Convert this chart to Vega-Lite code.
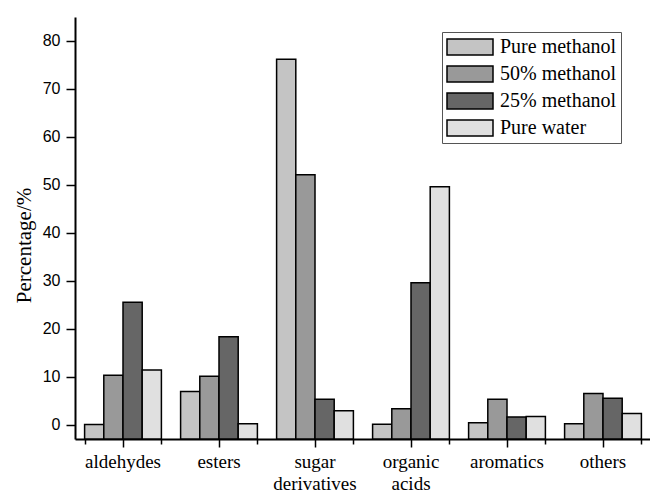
{
  "$schema": "https://vega.github.io/schema/vega-lite/v6.json",
  "width": 576,
  "height": 422,
  "autosize": {"type": "none"},
  "padding": {"left": 75, "top": 17, "right": 0, "bottom": 53},
  "background": "white",
  "config": {
    "view": {"stroke": null},
    "axis": {"domainColor": "black", "tickColor": "black", "labelColor": "black", "titleColor": "black", "grid": false}
  },
  "data": {
    "values": [
      {"category": "aldehydes", "solvent": "Pure methanol", "percentage": 0.0},
      {"category": "aldehydes", "solvent": "50% methanol", "percentage": 10.3},
      {"category": "aldehydes", "solvent": "25% methanol", "percentage": 25.5},
      {"category": "aldehydes", "solvent": "Pure water", "percentage": 11.4},
      {"category": "esters", "solvent": "Pure methanol", "percentage": 6.9},
      {"category": "esters", "solvent": "50% methanol", "percentage": 10.1},
      {"category": "esters", "solvent": "25% methanol", "percentage": 18.3},
      {"category": "esters", "solvent": "Pure water", "percentage": 0.2},
      {"category": "sugar derivatives", "solvent": "Pure methanol", "percentage": 76.2},
      {"category": "sugar derivatives", "solvent": "50% methanol", "percentage": 52.1},
      {"category": "sugar derivatives", "solvent": "25% methanol", "percentage": 5.3},
      {"category": "sugar derivatives", "solvent": "Pure water", "percentage": 2.9},
      {"category": "organic acids", "solvent": "Pure methanol", "percentage": 0.1},
      {"category": "organic acids", "solvent": "50% methanol", "percentage": 3.3},
      {"category": "organic acids", "solvent": "25% methanol", "percentage": 29.6},
      {"category": "organic acids", "solvent": "Pure water", "percentage": 49.6},
      {"category": "aromatics", "solvent": "Pure methanol", "percentage": 0.4},
      {"category": "aromatics", "solvent": "50% methanol", "percentage": 5.3},
      {"category": "aromatics", "solvent": "25% methanol", "percentage": 1.6},
      {"category": "aromatics", "solvent": "Pure water", "percentage": 1.7},
      {"category": "others", "solvent": "Pure methanol", "percentage": 0.2},
      {"category": "others", "solvent": "50% methanol", "percentage": 6.5},
      {"category": "others", "solvent": "25% methanol", "percentage": 5.5},
      {"category": "others", "solvent": "Pure water", "percentage": 2.3}
    ]
  },
  "layer": [
    {
      "mark": {"type": "bar", "stroke": "black", "strokeWidth": 1.5},
      "encoding": {
        "x": {
          "field": "category",
          "type": "nominal",
          "sort": ["aldehydes", "esters", "sugar derivatives", "organic acids", "aromatics", "others"],
          "scale": {"paddingInner": 0.2, "paddingOuter": 0.1},
          "axis": {
            "title": null,
            "labelAngle": 0,
            "labelFont": "Liberation Serif",
            "labelFontSize": 19,
            "labelLineHeight": 22,
            "labelExpr": "split(datum.label, ' ')",
            "labelPadding": 5,
            "tickSize": 8,
            "tickWidth": 1.5,
            "domainWidth": 2
          }
        },
        "xOffset": {
          "field": "solvent",
          "type": "nominal",
          "scale": {"domain": ["Pure methanol", "50% methanol", "25% methanol", "Pure water"], "paddingInner": 0, "paddingOuter": 0}
        },
        "y": {
          "field": "percentage",
          "type": "quantitative",
          "scale": {"domain": [-3, 85], "nice": false, "zero": false},
          "axis": {
            "title": "Percentage/%",
            "titleFont": "Liberation Serif",
            "titleFontSize": 21,
            "titleFontWeight": "normal",
            "titlePadding": 8,
            "titleY": 228,
            "values": [0, 5, 10, 15, 20, 25, 30, 35, 40, 45, 50, 55, 60, 65, 70, 75, 80, 85],
            "labelExpr": "datum.value % 10 === 0 ? datum.label : ''",
            "labelFont": "Liberation Sans",
            "labelFontSize": 16,
            "labelPadding": 6,
            "tickSize": {"condition": {"test": "datum.value % 10 === 0", "value": 9}, "value": 5},
            "tickWidth": 1.5,
            "domainWidth": 2
          }
        },
        "y2": {"datum": -3},
        "fill": {
          "field": "solvent",
          "type": "nominal",
          "scale": {
            "domain": ["Pure methanol", "50% methanol", "25% methanol", "Pure water"],
            "range": ["#c4c4c4", "#999999", "#666666", "#e0e0e0"]
          },
          "legend": {
            "title": null,
            "orient": "none",
            "legendX": 367,
            "legendY": 15,
            "symbolType": "M-1,-0.348H1V0.348H-1Z",
            "symbolSize": 2116,
            "symbolStrokeColor": "black",
            "symbolStrokeWidth": 1.5,
            "clipHeight": 22,
            "labelFont": "Liberation Serif",
            "labelFontSize": 20,
            "labelColor": "black",
            "labelOffset": 6,
            "rowPadding": 5,
            "padding": 4,
            "strokeColor": "#555555",
            "fillColor": "white"
          }
        }
      }
    },
    {
      "mark": {"type": "bar", "opacity": 0},
      "encoding": {
        "x": {
          "field": "category",
          "type": "nominal",
          "sort": ["aldehydes", "esters", "sugar derivatives", "organic acids", "aromatics", "others"],
          "axis": {
            "title": null,
            "orient": "bottom",
            "labels": false,
            "domain": false,
            "tickBand": "extent",
            "tickSize": 5,
            "tickWidth": 1.5
          }
        },
        "y": {"field": "percentage", "type": "quantitative"},
        "y2": {"datum": -3}
      }
    }
  ],
  "resolve": {"axis": {"x": "independent"}}
}
